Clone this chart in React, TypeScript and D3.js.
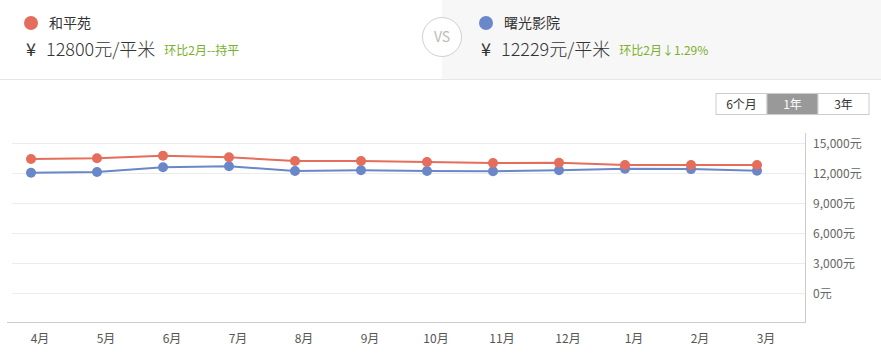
import { useEffect, useRef } from 'react';
import * as d3 from 'd3';

const months = ['4月', '5月', '6月', '7月', '8月', '9月', '10月', '11月', '12月', '1月', '2月', '3月'];
const heping = [13400, 13470, 13730, 13570, 13200, 13200, 13100, 13000, 13030, 12800, 12800, 12800];
const shuguang = [12030, 12100, 12570, 12670, 12200, 12270, 12200, 12170, 12270, 12430, 12389, 12229];
const yTicks = [0, 3000, 6000, 9000, 12000, 15000];
const periods = ['6个月', '1年', '3年'];

const RED = '#e46d5c';
const BLUE = '#6a87c9';
const GREEN = '#79b02c';
const FONT = '"Noto Sans CJK SC", "Noto Sans", sans-serif';

export default function App() {
    const ref = useRef<SVGSVGElement>(null);

    useEffect(() => {
        document.body.style.margin = '0';
        if (!ref.current) return;
        const svg = d3.select(ref.current);
        svg.selectAll('*').remove();
        svg.attr('font-family', FONT);

        // Header panels
        svg.append('rect').attr('x', 0).attr('y', 0).attr('width', 881).attr('height', 79).attr('fill', '#fff');
        svg.append('rect').attr('x', 442).attr('y', 0).attr('width', 439).attr('height', 79).attr('fill', '#f7f7f7');
        svg.append('line').attr('x1', 0).attr('x2', 881).attr('y1', 79.5).attr('y2', 79.5).attr('stroke', '#e6e6e6');

        const headers = [
            { name: '和平苑', price: '12800元/平米', change: '环比2月--持平', color: RED, x: 0 },
            { name: '曙光影院', price: '12229元/平米', change: '环比2月↓1.29%', color: BLUE, x: 455 },
        ];
        headers.forEach(h => {
            const g = svg.append('g').attr('transform', `translate(${h.x},0)`);
            g.append('circle').attr('cx', 31).attr('cy', 23).attr('r', 7).attr('fill', h.color);
            g.append('text').attr('x', 49).attr('y', 28).attr('font-size', 14).attr('fill', '#333').text(h.name);
            g.append('text').attr('x', 26).attr('y', 56).attr('font-size', 18).attr('fill', '#333').text('¥');
            const p = g.append('text').attr('x', 46).attr('y', 56).attr('font-size', 18)
                .attr('font-weight', 300).attr('fill', '#333').text(h.price);
            const w = (p.node() as SVGTextElement).getComputedTextLength();
            g.append('text').attr('x', 46 + w + 9).attr('y', 55).attr('font-size', 12).attr('fill', GREEN).text(h.change);
        });

        // VS badge
        svg.append('circle').attr('cx', 442).attr('cy', 37).attr('r', 19.5)
            .attr('fill', '#fff').attr('stroke', '#d0d0d0').attr('stroke-width', 1);
        svg.append('text').attr('x', 442).attr('y', 42).attr('text-anchor', 'middle')
            .attr('font-size', 14).attr('fill', '#bbb').text('VS');

        // Period buttons
        const bx = d3.scaleBand().domain(periods).range([716, 869]);
        const btn = svg.append('g');
        btn.selectAll('rect').data(periods).enter().append('rect')
            .attr('x', d => bx(d)!).attr('y', 93.5).attr('width', bx.bandwidth()).attr('height', 21)
            .attr('fill', d => (d === '1年' ? '#999' : '#fff'))
            .attr('stroke', '#ccc');
        btn.selectAll('text').data(periods).enter().append('text')
            .attr('x', d => bx(d)! + bx.bandwidth() / 2).attr('y', 108.5)
            .attr('text-anchor', 'middle').attr('font-size', 12)
            .attr('fill', d => (d === '1年' ? '#fff' : '#333'))
            .text(d => d);

        // Chart
        const band = d3.scaleBand().domain(months).range([7, 799]);
        const x = d3.scalePoint().domain(months).range([31, 757]);
        const y = d3.scaleLinear().domain([0, 15000]).range([293, 143]);

        svg.append('g').selectAll('line').data(yTicks).enter().append('line')
            .attr('x1', 12).attr('x2', 805)
            .attr('y1', d => y(d) + 0.5).attr('y2', d => y(d) + 0.5)
            .attr('stroke', '#ececec');

        svg.append('line').attr('x1', 805.5).attr('x2', 805.5).attr('y1', 133).attr('y2', 323)
            .attr('stroke', '#ccc');
        svg.append('line').attr('x1', 7).attr('x2', 806).attr('y1', 322.5).attr('y2', 322.5)
            .attr('stroke', '#ccc');

        svg.append('g').selectAll('text').data(yTicks).enter().append('text')
            .attr('x', 813).attr('y', d => y(d) + 5)
            .attr('font-size', 12).attr('fill', '#666')
            .text(d => `${d3.format(',')(d)}元`);

        svg.append('g').selectAll('text').data(months).enter().append('text')
            .attr('x', d => band(d)! + band.bandwidth() / 2).attr('y', 343)
            .attr('text-anchor', 'middle').attr('font-size', 12).attr('fill', '#555')
            .text(d => d);

        const series = [
            { values: shuguang, color: BLUE },
            { values: heping, color: RED },
        ];
        const line = d3.line<number>().x((_, i) => x(months[i])!).y(d => y(d));
        series.forEach(s => {
            svg.append('path').attr('d', line(s.values)!).attr('fill', 'none')
                .attr('stroke', s.color).attr('stroke-width', 2);
            svg.append('g').selectAll('circle').data(s.values).enter().append('circle')
                .attr('cx', (_, i) => x(months[i])!).attr('cy', d => y(d))
                .attr('r', 5).attr('fill', s.color);
        });
    }, []);

    return <svg ref={ref} width={881} height={355} style={{ display: 'block' }} />;
}
